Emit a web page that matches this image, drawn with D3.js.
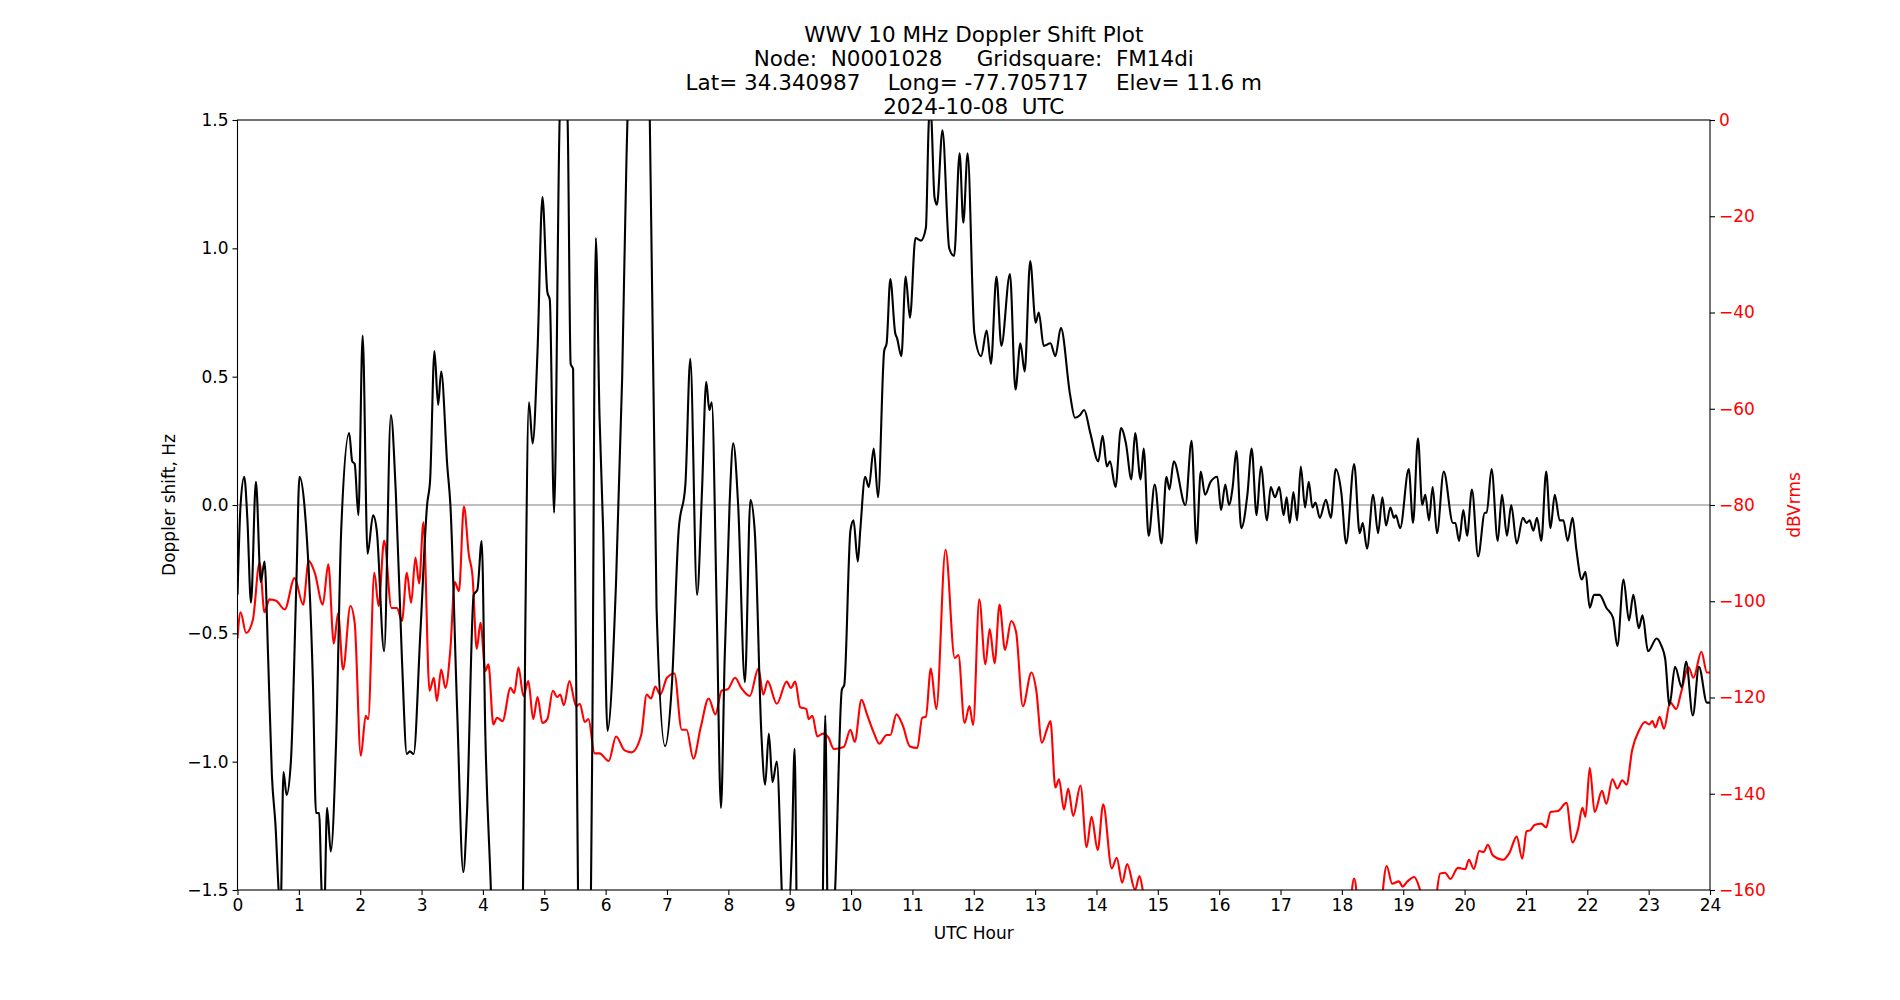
<!DOCTYPE html>
<html>
<head>
<meta charset="utf-8">
<title>WWV Doppler Shift Plot</title>
<script src="https://d3js.org/d3.v7.min.js"></script>
<style>
  body { margin: 0; background: #fff; font-family: "DejaVu Sans", sans-serif; }
  svg text { font-family: "DejaVu Sans", sans-serif; white-space: pre; }
</style>
</head>
<body>
<svg id="chart" width="1900" height="1000"></svg>
<script>
// title lines
const titleLines = [
  "WWV 10 MHz Doppler Shift Plot",
  "Node:  N0001028     Gridsquare:  FM14di",
  "Lat= 34.340987    Long= -77.705717    Elev= 11.6 m",
  "2024-10-08  UTC"
];

// Doppler shift (Hz): hour, value
const dopplerHours = [0,0.05,0.11,0.16,0.22,0.3,0.38,0.44,0.5,0.56,0.62,0.67,0.7,0.75,0.8,0.87,0.96,1.01,1.09,1.23,1.28,1.33,1.37,1.41,1.46,1.52,1.61,1.69,1.82,1.87,1.91,1.97,2.04,2.12,2.21,2.27,2.39,2.5,2.58,2.68,2.76,2.81,2.87,2.98,3.09,3.14,3.21,3.27,3.32,3.42,3.47,3.58,3.68,3.74,3.85,3.91,3.98,4.04,4.13,4.17,4.64,4.69,4.75,4.81,4.89,4.97,5.05,5.09,5.16,5.25,5.3,5.38,5.43,5.47,5.55,5.6,5.74,5.78,5.84,5.9,5.96,6.03,6.17,6.27,6.34,6.39,6.69,6.72,6.83,6.97,7.08,7.19,7.3,7.38,7.49,7.57,7.64,7.69,7.73,7.81,7.88,7.94,8.02,8.08,8.16,8.27,8.36,8.43,8.54,8.6,8.66,8.72,8.79,8.87,8.91,9.04,9.08,9.13,9.52,9.58,9.63,9.74,9.85,9.89,9.99,10.04,10.11,10.15,10.23,10.29,10.37,10.44,10.54,10.58,10.64,10.72,10.75,10.82,10.89,10.96,11.05,11.14,11.22,11.27,11.3,11.36,11.4,11.49,11.6,11.68,11.77,11.83,11.9,12.01,12.12,12.21,12.28,12.37,12.45,12.59,12.68,12.76,12.83,12.92,13.01,13.06,13.14,13.25,13.33,13.42,13.57,13.65,13.73,13.8,13.9,14.03,14.1,14.17,14.22,14.31,14.4,14.48,14.57,14.63,14.72,14.77,14.85,14.95,15.06,15.14,15.19,15.26,15.45,15.55,15.63,15.7,15.77,15.86,15.97,16.03,16.1,16.16,16.22,16.28,16.36,16.46,16.53,16.61,16.68,16.78,16.84,16.91,16.98,17.05,17.1,17.15,17.21,17.27,17.33,17.4,17.46,17.52,17.57,17.64,17.74,17.82,17.9,17.99,18.07,18.2,18.29,18.34,18.41,18.51,18.59,18.66,18.72,18.79,18.85,18.88,18.95,19.09,19.16,19.24,19.31,19.36,19.42,19.48,19.55,19.66,19.81,19.85,19.91,19.98,20.04,20.12,20.22,20.33,20.36,20.44,20.54,20.61,20.69,20.76,20.85,20.95,21.01,21.06,21.12,21.18,21.25,21.33,21.4,21.47,21.55,21.61,21.68,21.76,21.82,21.91,21.97,22.04,22.11,22.2,22.31,22.42,22.49,22.59,22.68,22.75,22.84,22.9,22.99,23.13,23.21,23.27,23.34,23.43,23.54,23.61,23.72,23.82,23.95,24];
const dopplerHz = [-0.35,0.0,0.11,-0.05,-0.38,0.09,-0.3,-0.22,-0.6,-1.05,-1.25,-1.5,-1.6,-1.04,-1.13,-1.0,-0.3,0.11,0.0,-0.7,-1.2,-1.2,-1.5,-1.62,-1.18,-1.35,-0.9,-0.1,0.28,0.17,0.16,-0.04,0.66,-0.19,-0.04,-0.1,-0.57,0.35,0.05,-0.6,-0.97,-0.96,-0.97,-0.5,0.0,0.1,0.6,0.39,0.52,0.15,0.0,-0.8,-1.43,-1.2,-0.35,-0.33,-0.14,-0.9,-1.5,-1.8,-1.8,-0.5,0.4,0.24,0.6,1.2,0.83,0.8,-0.03,1.5,1.75,1.5,0.55,0.53,-1.5,-1.8,-1.8,-1.0,1.04,0.35,-0.1,-0.88,-0.3,0.5,1.35,1.7,1.7,1.5,-0.4,-0.94,-0.7,-0.1,0.08,0.57,-0.35,0.05,0.48,0.37,0.4,-0.4,-1.18,-0.6,0.0,0.24,0.0,-0.69,0.02,-0.1,-0.9,-1.09,-0.89,-1.08,-1.0,-1.5,-1.8,-1.3,-0.95,-1.8,-1.8,-0.82,-1.8,-1.5,-0.72,-0.7,-0.1,-0.06,-0.22,-0.1,0.11,0.07,0.22,0.03,0.6,0.63,0.88,0.67,0.65,0.58,0.89,0.73,1.04,1.03,1.08,1.5,1.53,1.2,1.17,1.46,1.0,0.97,1.37,1.1,1.37,0.67,0.58,0.68,0.55,0.89,0.62,0.9,0.45,0.63,0.52,0.95,0.71,0.75,0.62,0.63,0.58,0.69,0.43,0.34,0.35,0.37,0.28,0.17,0.27,0.15,0.17,0.07,0.3,0.24,0.1,0.28,0.1,0.22,-0.12,0.08,-0.15,0.11,0.06,0.17,0.0,0.25,-0.15,0.13,0.04,0.09,0.11,-0.02,0.08,0.0,0.07,0.21,-0.09,0.04,0.22,-0.04,0.15,-0.06,0.07,0.03,0.07,-0.04,0.03,-0.07,0.05,-0.06,0.15,-0.01,0.09,-0.01,0.01,-0.05,0.02,-0.05,0.14,0.05,-0.15,0.16,-0.11,-0.07,-0.17,0.04,-0.11,0.03,-0.08,-0.01,-0.05,-0.04,-0.09,0.14,-0.07,0.26,0.0,0.04,-0.06,0.07,-0.11,0.13,-0.07,-0.07,-0.14,-0.02,-0.12,0.06,-0.2,-0.03,-0.03,0.14,-0.14,0.04,-0.12,0.0,-0.15,-0.05,-0.07,-0.06,-0.1,-0.05,-0.14,0.13,-0.09,0.04,-0.06,-0.06,-0.14,-0.05,-0.17,-0.29,-0.26,-0.4,-0.35,-0.35,-0.4,-0.44,-0.55,-0.29,-0.45,-0.35,-0.48,-0.43,-0.57,-0.52,-0.55,-0.6,-0.78,-0.63,-0.71,-0.61,-0.82,-0.63,-0.77,-0.77];

// signal level (dBVrms): hour, value
const levelHours = [0,0.05,0.14,0.25,0.36,0.44,0.52,0.63,0.77,0.93,1.07,1.16,1.26,1.39,1.48,1.57,1.64,1.72,1.84,1.91,2.01,2.09,2.13,2.23,2.3,2.39,2.51,2.6,2.68,2.76,2.83,2.9,2.96,3.03,3.13,3.2,3.25,3.32,3.39,3.47,3.54,3.61,3.69,3.77,3.83,3.9,3.96,4.04,4.09,4.17,4.23,4.32,4.45,4.51,4.58,4.66,4.74,4.82,4.89,4.97,5.05,5.14,5.21,5.26,5.32,5.41,5.52,5.58,5.66,5.72,5.82,5.9,6.05,6.17,6.31,6.42,6.58,6.67,6.74,6.81,6.89,7.0,7.12,7.24,7.32,7.43,7.55,7.68,7.79,7.89,7.99,8.11,8.21,8.35,8.49,8.57,8.64,8.79,8.95,9.02,9.09,9.17,9.27,9.31,9.37,9.45,9.54,9.63,9.72,9.88,9.99,10.06,10.17,10.26,10.37,10.46,10.58,10.64,10.74,10.84,10.96,11.08,11.16,11.22,11.3,11.39,11.54,11.69,11.75,11.85,11.93,11.99,12.09,12.19,12.26,12.34,12.42,12.51,12.61,12.69,12.8,12.94,13.02,13.11,13.19,13.25,13.33,13.39,13.47,13.54,13.62,13.74,13.84,13.92,14.02,14.11,14.25,14.33,14.42,14.5,14.63,14.7,14.77,14.9,16.8,16.95,17.1,18.1,18.2,18.3,18.6,18.73,18.82,18.93,18.99,19.07,19.18,19.27,19.36,19.5,19.6,19.68,19.77,19.89,20.01,20.07,20.15,20.24,20.31,20.38,20.46,20.63,20.73,20.85,20.94,21.01,21.07,21.14,21.25,21.33,21.4,21.52,21.66,21.76,21.85,21.92,21.97,22.04,22.12,22.24,22.31,22.41,22.49,22.57,22.64,22.73,22.85,22.94,23.01,23.06,23.11,23.18,23.25,23.35,23.45,23.53,23.65,23.73,23.86,23.95,24];
const levelDb = [-107.7,-102.3,-106.6,-103.9,-92,-102.3,-99.6,-99.9,-101.7,-95.2,-100.7,-91.6,-94.1,-100.7,-92.3,-108.8,-102.5,-114.2,-101,-104.5,-132.1,-123.8,-124.5,-94.1,-101,-87.4,-101.4,-101.4,-104.1,-94.1,-100.3,-90.9,-96.3,-83.6,-118.6,-115.9,-120.7,-114.2,-118,-109.9,-96,-97.9,-80.3,-90.3,-94.7,-109.9,-104.5,-114.5,-113.1,-125.6,-124.2,-124.9,-118,-119.1,-113.7,-119.7,-116.6,-124.5,-119.9,-125.3,-124.5,-118.6,-119.9,-119.4,-121.6,-116.6,-121.8,-121.3,-125.1,-124.5,-131.6,-131.6,-133.2,-128.1,-131,-131.4,-127.8,-119.4,-120.2,-117.7,-119.4,-115.9,-115,-126.7,-126.7,-132.7,-126.2,-120.2,-123.5,-118.6,-118.3,-115.9,-118,-119.7,-114,-119.4,-116.6,-121.3,-116.7,-118,-116.7,-122,-122.4,-124.5,-123.8,-128.1,-127.5,-128.3,-130.7,-130.3,-126.7,-129.2,-120.5,-123.5,-127.3,-129.6,-127.8,-127.8,-123.5,-125.7,-130.2,-130.5,-124.2,-124,-114,-122.4,-89.3,-111.8,-111.2,-125.3,-121.8,-125.7,-99.6,-113.1,-105.8,-112.9,-100.7,-110.1,-104.1,-106.4,-121.8,-114.8,-118.6,-129.4,-126.7,-124.9,-138.7,-137,-143.3,-138.9,-144.6,-138.3,-151.1,-144.8,-151.7,-142.2,-155.5,-153.3,-158.5,-154.6,-160,-157.1,-161,-166,-166,-160.3,-166,-166,-157.6,-166,-166,-155,-158.7,-158.2,-159.3,-158.2,-157.3,-159.8,-164,-164,-156.6,-156.4,-157.7,-155.4,-155.7,-153.7,-155.6,-151.9,-152.1,-150.6,-152.8,-153.7,-152.3,-148.9,-153.5,-147.8,-147.6,-146.5,-146.2,-147,-143.8,-143.6,-141.9,-150.1,-147.3,-142.9,-144.8,-134.6,-143.8,-139.4,-142.1,-137,-138.9,-137.2,-138.1,-131,-126.7,-125.1,-125.6,-124.9,-126.2,-124,-126.5,-121,-122.4,-118.9,-113.7,-115.9,-110.5,-114.8,-114.8];

const xTicks = d3.range(0, 25, 1);
const leftTicks = [-1.5, -1.0, -0.5, 0.0, 0.5, 1.0, 1.5];
const rightTicks = [0, -20, -40, -60, -80, -100, -120, -140, -160];

const svg = d3.select('#chart');
const pLeft = 237.5, pRight = 1710, pTop = 120, pBottom = 890;

const x = d3.scaleLinear().domain([0, 24]).range([pLeft, pRight]);
const y = d3.scaleLinear().domain([-1.5, 1.5]).range([pBottom, pTop]);
const yR = d3.scaleLinear().domain([-160, 0]).range([pBottom, pTop]);

svg.append('defs').append('clipPath').attr('id', 'plotclip')
  .append('rect').attr('x', pLeft).attr('y', pTop)
  .attr('width', pRight - pLeft).attr('height', pBottom - pTop);

// zero line
svg.append('line')
  .attr('x1', pLeft).attr('x2', pRight)
  .attr('y1', y(0)).attr('y2', y(0))
  .attr('stroke', '#808080').attr('stroke-width', 1.2);

const plot = svg.append('g').attr('clip-path', 'url(#plotclip)');

const lineD = d3.line()
  .x(i => x(dopplerHours[i])).y(i => y(dopplerHz[i]))
  .curve(d3.curveMonotoneX);
const lineR = d3.line()
  .x(i => x(levelHours[i])).y(i => yR(levelDb[i]))
  .curve(d3.curveMonotoneX);

plot.append('path')
  .attr('d', lineR(d3.range(levelHours.length)))
  .attr('fill', 'none').attr('stroke', '#ff0000').attr('stroke-width', 2.1);

plot.append('path')
  .attr('d', lineD(d3.range(dopplerHours.length)))
  .attr('fill', 'none').attr('stroke', '#000').attr('stroke-width', 2.1);

// axes
const fmtMinus = s => s.replace('-', '\u2212');
const xAxis = svg.append('g').attr('transform', `translate(0,${pBottom})`)
  .call(d3.axisBottom(x).tickValues(xTicks).tickSizeOuter(0).tickSize(5).tickPadding(4));
const yAxis = svg.append('g').attr('transform', `translate(${pLeft},0)`)
  .call(d3.axisLeft(y).tickValues(leftTicks).tickSizeOuter(0).tickSize(5).tickPadding(4)
    .tickFormat(d => fmtMinus(d3.format('.1f')(d))));
const yAxisR = svg.append('g').attr('transform', `translate(${pRight},0)`)
  .call(d3.axisRight(yR).tickValues(rightTicks).tickSizeOuter(0).tickSize(5).tickPadding(4)
    .tickFormat(d => fmtMinus(String(d))));

[xAxis, yAxis, yAxisR].forEach(g => {
  g.selectAll('text').attr('font-size', 17).attr('font-family', 'DejaVu Sans');
  g.selectAll('line').attr('stroke', '#000').attr('stroke-width', 1.1);
  g.select('.domain').remove();
});
yAxisR.selectAll('text').attr('fill', '#ff0000');

// frame
svg.append('rect').attr('x', pLeft).attr('y', pTop)
  .attr('width', pRight - pLeft).attr('height', pBottom - pTop)
  .attr('fill', 'none').attr('stroke', '#000').attr('stroke-width', 1.1);

// labels
svg.append('text').attr('x', (pLeft + pRight) / 2).attr('y', 939)
  .attr('text-anchor', 'middle').attr('font-size', 17).text('UTC Hour');
svg.append('text').attr('transform', `translate(175,${(pTop + pBottom) / 2}) rotate(-90)`)
  .attr('text-anchor', 'middle').attr('font-size', 17).text('Doppler shift, Hz');
svg.append('text').attr('transform', `translate(1800,${(pTop + pBottom) / 2}) rotate(-90)`)
  .attr('text-anchor', 'middle').attr('font-size', 17).attr('fill', '#ff0000').text('dBVrms');

svg.append('g').selectAll('text').data(titleLines).join('text')
  .attr('x', (pLeft + pRight) / 2).attr('y', (d, i) => 42 + i * 24)
  .attr('xml:space', 'preserve')
  .attr('text-anchor', 'middle').attr('font-size', 21.5).text(d => d);
</script>
</body>
</html>
